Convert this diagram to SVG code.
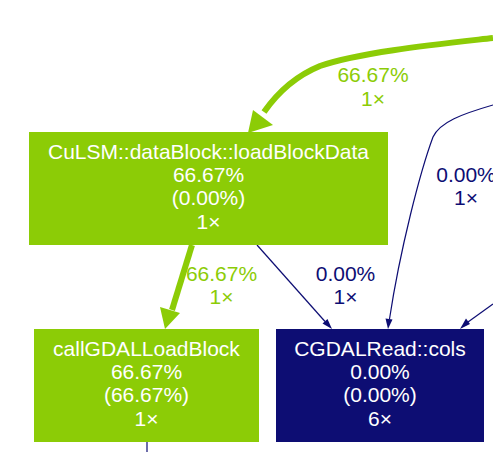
<svg xmlns="http://www.w3.org/2000/svg" width="493" height="452" viewBox="0 0 493 452">
<style>
text{font-family:"Liberation Sans",Arial,sans-serif;font-size:21px;text-anchor:middle}
.nt{fill:#ffffff}
.g{fill:#8ccc06}
.b{fill:#0d0d73}
.ge{fill:none;stroke:#8ccc06;stroke-width:6}
.be{fill:none;stroke:#0d0d73;stroke-width:1.2}
</style>
<rect width="493" height="452" fill="#ffffff"/>
<g id="edges">
<path class="ge" d="M493,38 C440,44 360,52 320,66 C298,75 278,92 264,112"/>
<polygon class="g" points="248,133 253,110 273,125"/>
<text class="g" x="373" y="82">66.67%</text>
<text class="g" x="373" y="105.5">1×</text>
<path class="be" d="M493,105 C462,114 440,122 433,137 C420,172 400,250 389.5,319"/>
<polygon class="b" points="388,329 385.5,318.5 392.5,319.5"/>
<text class="b" x="466" y="182">0.00%</text>
<text class="b" x="466" y="205">1×</text>
<path class="be" d="M257,245 L325,321.5"/>
<polygon class="b" points="332,329 322.5,323.5 327.5,319"/>
<text class="b" x="345.5" y="281">0.00%</text>
<text class="b" x="345.5" y="304">1×</text>
<path class="be" d="M493,304 L468,322"/>
<polygon class="b" points="460,329 466,318.5 470,324"/>
<path class="ge" d="M192,245 L172,310"/>
<polygon class="g" points="165,329 160,307 180,313"/>
<text class="g" x="221.5" y="281">66.67%</text>
<text class="g" x="221.5" y="304">1×</text>
<path class="be" d="M147,442 L147,452"/>
</g>
<g id="node-loadBlockData">
<rect x="29" y="132" width="359" height="113" fill="#8ccc06"/>
<text class="nt" x="208.5" y="158.7">CuLSM::dataBlock::loadBlockData</text>
<text class="nt" x="208.5" y="182">66.67%</text>
<text class="nt" x="208.5" y="205.3">(0.00%)</text>
<text class="nt" x="208.5" y="228.6">1×</text>
</g>
<g id="node-callGDALLoadBlock">
<rect x="34" y="329" width="225" height="113" fill="#8ccc06"/>
<text class="nt" x="146.5" y="355.7">callGDALLoadBlock</text>
<text class="nt" x="146.5" y="379">66.67%</text>
<text class="nt" x="146.5" y="402.3">(66.67%)</text>
<text class="nt" x="146.5" y="425.6">1×</text>
</g>
<g id="node-CGDALRead-cols">
<rect x="276" y="329" width="208" height="113" fill="#0d0d73"/>
<text class="nt" x="380" y="355.7">CGDALRead::cols</text>
<text class="nt" x="380" y="379">0.00%</text>
<text class="nt" x="380" y="402.3">(0.00%)</text>
<text class="nt" x="380" y="425.6">6×</text>
</g>
</svg>
